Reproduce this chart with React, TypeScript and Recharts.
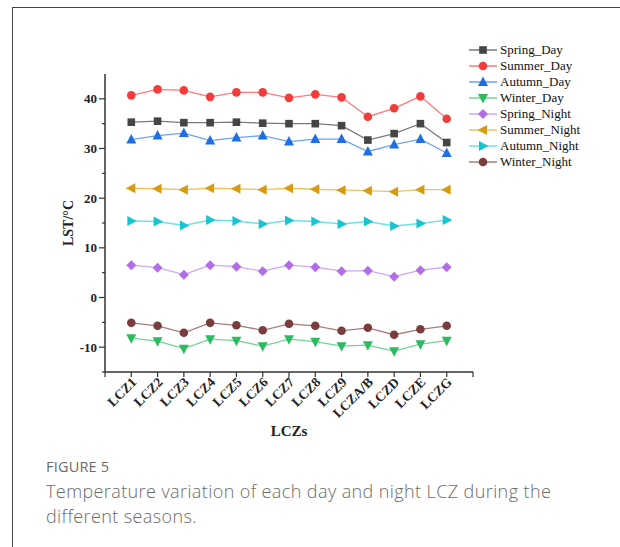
import { LineChart, Line, XAxis, YAxis, Legend } from 'recharts'

const categories = ['LCZ1', 'LCZ2', 'LCZ3', 'LCZ4', 'LCZ5', 'LCZ6', 'LCZ7', 'LCZ8', 'LCZ9', 'LCZA/B', 'LCZD', 'LCZE', 'LCZG']

const springDay = [35.3, 35.5, 35.2, 35.2, 35.3, 35.1, 35.0, 35.0, 34.6, 31.7, 33.0, 35.0, 31.2]
const summerDay = [40.7, 41.9, 41.7, 40.4, 41.3, 41.3, 40.2, 40.9, 40.3, 36.4, 38.1, 40.5, 36.0]
const autumnDay = [31.8, 32.6, 33.1, 31.6, 32.2, 32.6, 31.4, 31.9, 31.9, 29.4, 30.8, 31.9, 29.1]
const winterDay = [-8.2, -8.8, -10.3, -8.4, -8.7, -9.8, -8.4, -8.9, -9.8, -9.6, -10.8, -9.4, -8.7]
const springNight = [6.5, 6.0, 4.6, 6.5, 6.2, 5.3, 6.5, 6.1, 5.3, 5.4, 4.2, 5.5, 6.1]
const summerNight = [22.0, 21.9, 21.7, 22.0, 21.9, 21.7, 22.0, 21.8, 21.6, 21.5, 21.3, 21.7, 21.7]
const autumnNight = [15.4, 15.3, 14.5, 15.6, 15.4, 14.8, 15.5, 15.3, 14.8, 15.3, 14.4, 14.9, 15.6]
const winterNight = [-5.1, -5.7, -7.1, -5.1, -5.6, -6.6, -5.3, -5.7, -6.7, -6.1, -7.5, -6.4, -5.7]

const yTicks = [-15, -10, -5, 0, 5, 10, 15, 20, 25, 30, 35, 40, 45]
const xTicks = [0, 1, 2, 3, 4, 5, 6, 7, 8, 9, 10, 11, 12, 13, 14]

type Shape = 'square' | 'circle' | 'up' | 'down' | 'diamond' | 'left' | 'right'

const series: { key: string; values: number[]; shape: Shape; fill: string; line: string }[] = [
  { key: 'Spring_Day', values: springDay, shape: 'square', fill: '#454545', line: '#7a7a7a' },
  { key: 'Summer_Day', values: summerDay, shape: 'circle', fill: '#f23d3d', line: '#ff7a7a' },
  { key: 'Autumn_Day', values: autumnDay, shape: 'up', fill: '#1f6fe3', line: '#6ea3f0' },
  { key: 'Winter_Day', values: winterDay, shape: 'down', fill: '#2dbb62', line: '#74d497' },
  { key: 'Spring_Night', values: springNight, shape: 'diamond', fill: '#b26ee8', line: '#cfa6f2' },
  { key: 'Summer_Night', values: summerNight, shape: 'left', fill: '#d89a0e', line: '#ebc465' },
  { key: 'Autumn_Night', values: autumnNight, shape: 'right', fill: '#18c4d0', line: '#6fe0e6' },
  { key: 'Winter_Night', values: winterNight, shape: 'circle', fill: '#7a3d3d', line: '#a97b7b' },
]

const data = categories.map((name, i) => {
  const row: Record<string, number | string> = { idx: i + 1, name }
  series.forEach((s) => { row[s.key] = s.values[i] })
  return row
})

const serif = '"Liberation Serif", "Times New Roman", serif'

function Marker({ cx, cy, shape, fill }: { cx: number; cy: number; shape: Shape; fill: string }) {
  if (cx == null || cy == null) return null
  const s = 5
  switch (shape) {
    case 'square':
      return <rect x={cx - 3.8} y={cy - 3.8} width={7.6} height={7.6} fill={fill} />
    case 'circle':
      return <circle cx={cx} cy={cy} r={4.3} fill={fill} />
    case 'up':
      return <polygon points={`${cx},${cy - s - 0.5} ${cx + s},${cy + s - 1} ${cx - s},${cy + s - 1}`} fill={fill} />
    case 'down':
      return <polygon points={`${cx},${cy + s + 0.5} ${cx + s},${cy - s + 1} ${cx - s},${cy - s + 1}`} fill={fill} />
    case 'diamond':
      return <polygon points={`${cx},${cy - s} ${cx + s},${cy} ${cx},${cy + s} ${cx - s},${cy}`} fill={fill} />
    case 'left':
      return <polygon points={`${cx - s - 0.5},${cy} ${cx + s - 1},${cy - s} ${cx + s - 1},${cy + s}`} fill={fill} />
    case 'right':
      return <polygon points={`${cx + s + 0.5},${cy} ${cx - s + 1},${cy - s} ${cx - s + 1},${cy + s}`} fill={fill} />
  }
  return null
}

const YTick = (props: any) => {
  const { x, payload } = props
  const y = payload.coordinate
  const major = payload.value % 10 === 0
  if (payload.value === 45) return null
  return (
    <g>
      <line x1={x - (major ? 6 : 3)} x2={x} y1={y} y2={y} stroke="#333" strokeWidth={1.2} />
      {major && (
        <text x={x - 8} y={y} dy={4.5} textAnchor="end" fontFamily={serif} fontWeight="bold" fontSize={13} fill="#222">
          {payload.value}
        </text>
      )}
    </g>
  )
}

const XTick = (props: any) => {
  const { y, payload } = props
  const x = payload.coordinate
  const label = categories[payload.value - 1]
  return (
    <g>
      <line x1={x} x2={x} y1={y} y2={y + 5} stroke="#333" strokeWidth={1.2} />
      {label && (
        <text
          transform={`translate(${x + 6},${y + 11}) rotate(-45)`}
          textAnchor="end"
          fontFamily={serif}
          fontWeight="bold"
          fontSize={13.5}
          fill="#222"
        >
          {label}
        </text>
      )}
    </g>
  )
}

const LegendBox = () => (
  <div>
    {series.map((s) => (
      <div key={s.key} style={{ display: 'flex', alignItems: 'center', height: 16 }}>
        <svg width={30} height={16}>
          <line x1={1} x2={29} y1={8} y2={8} stroke={s.line} strokeWidth={1.5} />
          <Marker cx={15} cy={8} shape={s.shape} fill={s.fill} />
        </svg>
        <span style={{ fontFamily: serif, fontSize: 13, color: '#111', marginLeft: 2, lineHeight: '16px' }}>{s.key}</span>
      </div>
    ))}
  </div>
)

export default function App() {
  return (
    <div style={{ position: 'absolute', left: 0, top: 0, width: 620, height: 547, overflow: 'hidden', background: '#fff' }}>
      <div style={{ position: 'absolute', left: 12, top: 7, width: 700, height: 600, border: '1.5px solid #444' }} />
      <div style={{ position: 'absolute', left: 0, top: 0 }}>
        <LineChart width={620} height={440} data={data} margin={{ top: 74, right: 147, bottom: 8, left: 55 }}>
          <XAxis
            dataKey="idx"
            type="number"
            domain={[0, 14]}
            ticks={xTicks}
            interval={0}
            height={60}
            tickSize={0}
            tickMargin={0}
            tick={<XTick />}
            axisLine={{ stroke: '#333', strokeWidth: 1.5 }}
            tickLine={false}
            label={{
              content: (p: any) => (
                <text x={p.viewBox.x + p.viewBox.width / 2} y={436} textAnchor="middle" fontFamily={serif} fontWeight="bold" fontSize={15} fill="#222">
                  LCZs
                </text>
              ),
            }}
          />
          <YAxis
            type="number"
            domain={[-15, 45]}
            ticks={yTicks}
            interval={0}
            width={50}
            tickSize={0}
            tickMargin={0}
            tick={<YTick />}
            axisLine={{ stroke: '#333', strokeWidth: 1.5 }}
            tickLine={false}
            label={{
              content: (p: any) => (
                <text
                  transform={`translate(${p.viewBox.x + 18},${p.viewBox.y + p.viewBox.height / 2}) rotate(-90)`}
                  textAnchor="middle"
                  fontFamily={serif}
                  fontWeight="bold"
                  fontSize={14}
                  fill="#222"
                >
                  LST/°C
                </text>
              ),
            }}
          />
          <Legend
            layout="vertical"
            align="center"
            verticalAlign="middle"
            wrapperStyle={{ left: 468, top: 42, width: 140 }}
            content={<LegendBox />}
          />
          {series.map((s) => (
            <Line
              key={s.key}
              dataKey={s.key}
              stroke={s.line}
              strokeWidth={1.3}
              isAnimationActive={false}
              dot={(p: any) => <Marker key={`${s.key}-${p.index}`} cx={p.cx} cy={p.cy} shape={s.shape} fill={s.fill} />}
              activeDot={false}
            />
          ))}
        </LineChart>
      </div>
      <div style={{ position: 'absolute', left: 46, top: 457, fontFamily: '"Open Sans", sans-serif', fontSize: 14.5, color: '#6b6b6b', letterSpacing: 0.2 }}>
        FIGURE 5
      </div>
      <div style={{ position: 'absolute', left: 46, top: 479, width: 545, fontFamily: '"Open Sans", sans-serif', fontSize: 18, lineHeight: '25px', color: '#6b6b6b', fontWeight: 300, letterSpacing: 0.4 }}>
        Temperature variation of each day and night LCZ during the different seasons.
      </div>
    </div>
  )
}
